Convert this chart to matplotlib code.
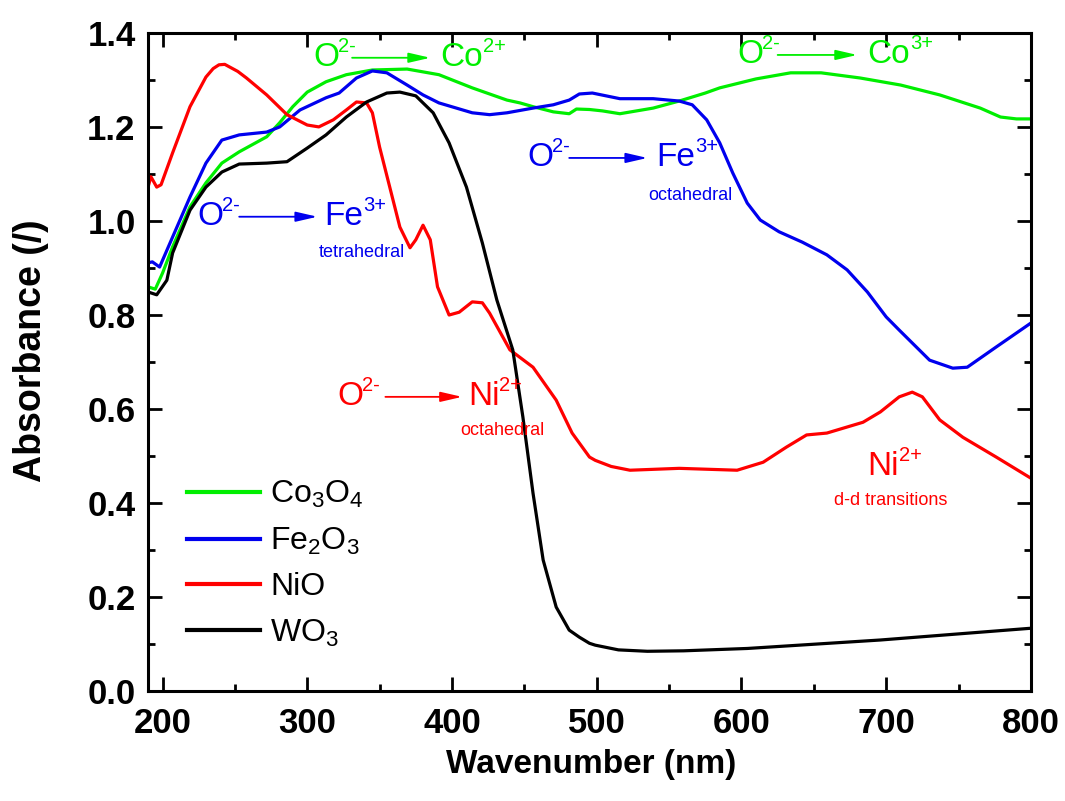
import matplotlib
matplotlib.use('Agg')
import matplotlib.pyplot as plt
from matplotlib.ticker import MultipleLocator, FormatStrFormatter

plt.rcParams['font.family'] = ['Liberation Sans', 'DejaVu Sans']
plt.rcParams['mathtext.fontset'] = 'custom'
plt.rcParams['mathtext.rm'] = 'Liberation Sans'
plt.rcParams['mathtext.default'] = 'regular'

# Co3O4
co_wl = [190, 195, 200, 207, 219, 230, 241, 253, 272, 281, 290, 300, 313, 327,
         345, 369, 391, 414, 438, 447, 456, 470, 481, 486, 495, 504, 516, 539,
         557, 575, 585, 610, 634, 655, 682, 710, 737, 765, 779, 790, 800]
co_abs = [0.860, 0.855, 0.889, 0.945, 1.030, 1.081, 1.123, 1.147, 1.179, 1.209,
          1.243, 1.274, 1.296, 1.311, 1.321, 1.323, 1.311, 1.283, 1.257, 1.251,
          1.243, 1.232, 1.228, 1.238, 1.237, 1.234, 1.228, 1.240, 1.255, 1.272,
          1.283, 1.302, 1.315, 1.315, 1.304, 1.289, 1.268, 1.240, 1.221, 1.217,
          1.217]

# Fe2O3
fe_wl = [190, 193, 198, 207, 219, 230, 241, 253, 272, 281, 295, 313, 322, 334,
         345, 355, 369, 380, 391, 414, 426, 438, 456, 470, 481, 488, 497, 516,
         539, 557, 566, 576, 585, 594, 604, 613, 626, 642, 659, 673, 687, 700,
         709, 730, 746, 756, 776, 800]
fe_abs = [0.911, 0.913, 0.902, 0.966, 1.051, 1.123, 1.172, 1.183, 1.189, 1.200,
          1.236, 1.262, 1.272, 1.304, 1.319, 1.315, 1.289, 1.268, 1.251, 1.230,
          1.226, 1.230, 1.240, 1.247, 1.257, 1.270, 1.272, 1.260, 1.260, 1.255,
          1.247, 1.215, 1.166, 1.102, 1.038, 1.002, 0.977, 0.955, 0.928, 0.896,
          0.849, 0.796, 0.768, 0.704, 0.687, 0.689, 0.732, 0.783]

# NiO
ni_wl = [190, 192, 196, 199, 207, 219, 230, 235, 239, 243, 246, 252, 258, 272,
         286, 300, 308, 318, 327, 334, 341, 345, 350, 357, 364, 371, 375, 380,
         385, 390, 398, 405, 414, 421, 426, 440, 456, 472, 483, 495, 499, 510,
         523, 557, 597, 615, 631, 645, 659, 684, 696, 709, 718, 725, 737, 753,
         776, 800]
ni_abs = [1.072, 1.094, 1.072, 1.077, 1.145, 1.243, 1.306, 1.324, 1.332, 1.333,
          1.328, 1.318, 1.304, 1.268, 1.226, 1.204, 1.200, 1.215, 1.236, 1.253,
          1.251, 1.230, 1.157, 1.072, 0.987, 0.943, 0.960, 0.991, 0.960, 0.860,
          0.800, 0.806, 0.828, 0.826, 0.804, 0.726, 0.689, 0.619, 0.549, 0.498,
          0.491, 0.478, 0.470, 0.474, 0.470, 0.487, 0.519, 0.545, 0.549, 0.572,
          0.594, 0.626, 0.636, 0.626, 0.577, 0.540, 0.498, 0.453]

# WO3
w_wl = [190, 196, 203, 207, 219, 230, 241, 253, 272, 286, 300, 313, 327, 341,
        355, 364, 375, 387, 398, 410, 421, 431, 442, 449, 456, 463, 472, 481,
        488, 495, 499, 515, 535, 560, 604, 696, 800]
w_abs = [0.849, 0.843, 0.874, 0.932, 1.023, 1.072, 1.104, 1.121, 1.123, 1.126,
         1.155, 1.183, 1.221, 1.253, 1.272, 1.274, 1.266, 1.230, 1.166, 1.072,
         0.953, 0.832, 0.726, 0.583, 0.421, 0.279, 0.179, 0.130, 0.115, 0.102,
         0.098, 0.088, 0.085, 0.086, 0.091, 0.109, 0.134]

GREEN = '#00ee00'
BLUE = '#0000ee'
RED = '#ff0000'

fig = plt.figure(figsize=(10.65, 8.01), dpi=100)
ax = fig.add_axes([0.139, 0.137, 0.829, 0.822])

lw = 2.3
ax.plot(co_wl, co_abs, color=GREEN, lw=lw, label=r'Co$_3$O$_4$')
ax.plot(fe_wl, fe_abs, color=BLUE, lw=lw, label=r'Fe$_2$O$_3$')
ax.plot(ni_wl, ni_abs, color=RED, lw=lw, label='NiO')
ax.plot(w_wl, w_abs, color='black', lw=lw, label=r'WO$_3$')

ax.set_xlim(190, 800)
ax.set_ylim(0, 1.4)
ax.xaxis.set_major_locator(MultipleLocator(100))
ax.xaxis.set_minor_locator(MultipleLocator(50))
ax.yaxis.set_major_locator(MultipleLocator(0.2))
ax.yaxis.set_minor_locator(MultipleLocator(0.1))
ax.yaxis.set_major_formatter(FormatStrFormatter('%.1f'))

for s in ax.spines.values():
    s.set_linewidth(2.2)
ax.tick_params(which='both', direction='in', top=True, right=True, width=2)
ax.tick_params(which='major', length=10)
ax.tick_params(which='minor', length=5)
ax.tick_params(axis='x', which='major', pad=11)
ax.tick_params(axis='y', which='major', pad=9)
for lab in ax.get_xticklabels() + ax.get_yticklabels():
    lab.set_fontsize(25)
    lab.set_fontweight('bold')

ax.set_xlabel('Wavenumber (nm)', fontsize=24, fontweight='bold')
ax.set_ylabel('Absorbance (/)', fontsize=27, fontweight='bold')
ax.xaxis.set_label_coords(0.502, -0.088)
ax.yaxis.set_label_coords(-0.112, 0.518)

leg = ax.legend(loc='upper left', bbox_to_anchor=(0.044, 0.322), frameon=False,
                fontsize=23, handlelength=2.3, handletextpad=0.3,
                labelspacing=0.48, borderpad=0, borderaxespad=0)
for ln in leg.get_lines():
    ln.set_linewidth(3)


def charge(t, text, color, xfrac=1.0):
    # small raised charge right after the symbol
    ax.annotate(text, xy=(xfrac, 1.0), xycoords=t, xytext=(0, 4),
                textcoords='offset points', color=color,
                fontsize=14.5, va='top', ha='left')


def transition(x0, x_a, x_b, x1, y, ion, sup_ion, color, size=24):
    t = ax.text(x0, y, 'O', color=color, fontsize=size, va='center', ha='left')
    charge(t, '2-', color, xfrac=0.95)
    ax.annotate('', xy=(x_b, y), xytext=(x_a, y),
                arrowprops=dict(arrowstyle='-|>,head_length=1.3,head_width=0.3',
                                color=color, lw=1.3, shrinkA=0, shrinkB=0))
    t2 = ax.text(x1, y, ion, color=color, fontsize=size, va='center', ha='left')
    charge(t2, sup_ion, color)


transition(304, 331, 385, 392, 1.347, 'Co', '2+', GREEN)
transition(597, 625, 680, 687, 1.353, 'Co', '3+', GREEN)
transition(224, 253, 307, 312, 1.009, 'Fe', '3+', BLUE)
ax.text(338, 0.932, 'tetrahedral', color=BLUE, fontsize=13, ha='center', va='center')
transition(452, 481, 535, 541, 1.134, 'Fe', '3+', BLUE)
ax.text(565, 1.055, 'octahedral', color=BLUE, fontsize=13, ha='center', va='center')
transition(321, 354, 407, 411, 0.626, 'Ni', '2+', RED)
ax.text(435, 0.555, 'octahedral', color=RED, fontsize=13, ha='center', va='center')

t = ax.text(687, 0.477, 'Ni', color=RED, fontsize=24, va='center', ha='left')
charge(t, '2+', RED)
ax.text(703, 0.406, 'd-d transitions', color=RED, fontsize=13, ha='center', va='center')

fig.savefig('out.png', dpi=100)
